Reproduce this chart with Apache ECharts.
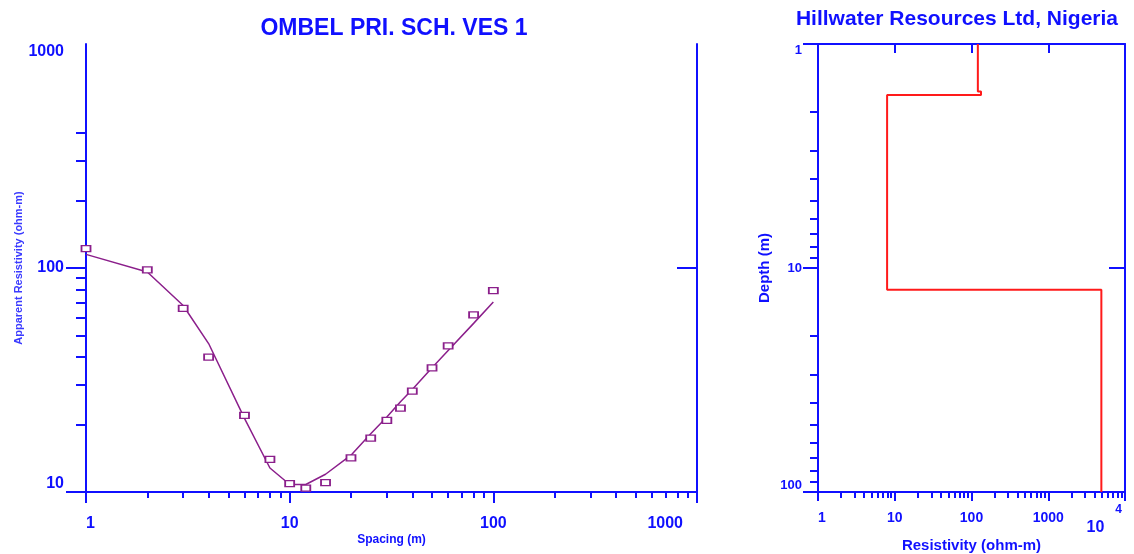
<!DOCTYPE html>
<html>
<head>
<meta charset="utf-8">
<title>OMBEL PRI. SCH. VES 1</title>
<script src="https://cdn.jsdelivr.net/npm/echarts@6/dist/echarts.min.js"></script>
<style>
  html, body { margin: 0; padding: 0; background: #fff; }
  #chart { width: 1134px; height: 554px; }
</style>
</head>
<body>
<div id="chart"></div>
<script>
// sounding curve (left)
const spacing = [1, 2, 3, 4, 6, 8, 10, 12, 15, 20, 25, 30, 35, 40, 50, 60, 80, 100]
const observedRho = [122, 98, 66, 40, 22, 14, 10.9, 10.4, 11, 14.2, 17.4, 20.9, 23.7, 28.2, 35.8, 44.9, 61.7, 79.3]
const calculatedRho = [115, 96, 68, 46, 21.3, 12.8, 10.8, 10.8, 12.0, 14.6, 18.2, 21.6, 25.3, 28.7, 35.9, 42.8, 56.6, 70.5]

// layered model (right)
const layerRes = [121, 133, 7.95, 4920]
const layerTop = [1, 1.63, 1.69, 12.5]
const modelBottom = 100

// tick values
const leftXMinor = [2, 3, 4, 5, 6, 7, 8, 9, 20, 30, 40, 50, 60, 70, 80, 90, 200, 300, 400, 500, 600, 700, 800, 900]
const leftYMajor = [10, 100]
const leftYMinor = [20, 30, 40, 50, 60, 70, 80, 90, 200, 300, 400]
const rightXMinor = [2, 3, 4, 5, 6, 7, 8, 9, 20, 30, 40, 50, 60, 70, 80, 90, 200, 300, 400, 500, 600, 700, 800, 900, 2000, 3000, 4000, 5000, 6000, 7000, 8000, 9000]
const rightXTop = [10, 100, 1000]
const rightYMinor = [2, 3, 4, 5, 6, 7, 8, 9, 20, 30, 40, 50, 60, 70, 80, 90]

const BLUE = '#1010ff'
const PURPLE = '#8b1f8b'
const FONT = "'Liberation Sans', Arial, sans-serif"

const modelLine = []
layerRes.forEach((r, i) => {
  const bottom = i < layerTop.length - 1 ? layerTop[i + 1] : modelBottom
  modelLine.push([r, layerTop[i]], [r, bottom])
})

const lbl = (size, extra) => Object.assign({ color: BLUE, fontFamily: FONT, fontWeight: 'bold', fontSize: size }, extra || {})
const line = { show: true, lineStyle: { color: BLUE, width: 2 } }
const noLine = { show: false }
const noLabel = { show: false }
const plain = v => String(v)

function minorAxis(grid, pos, vals, len, inside) {
  return {
    type: 'log', logBase: 10, gridIndex: grid, position: pos,
    axisLine: noLine, axisLabel: noLabel, splitLine: { show: false },
    axisTick: { show: true, inside: !!inside, length: len, customValues: vals, lineStyle: { color: BLUE, width: 2 } }
  }
}

const chart = echarts.init(document.getElementById('chart'))

chart.setOption({
  animation: false,
  backgroundColor: '#fff',
  graphic: [
    { type: 'text', x: 394, y: 29, style: { text: 'OMBEL PRI. SCH. VES 1', align: 'center', verticalAlign: 'middle', fill: BLUE, font: "bold 23px 'Liberation Sans', Arial, sans-serif" } },
    { type: 'text', x: 957, y: 19, style: { text: 'Hillwater Resources Ltd, Nigeria', align: 'center', verticalAlign: 'middle', fill: BLUE, font: "bold 21px 'Liberation Sans', Arial, sans-serif" } }
  ],
  grid: [
    { left: 86, top: 44, width: 611, height: 448, outerBoundsMode: 'none', containLabel: false },
    { left: 818, top: 44, width: 307, height: 448, outerBoundsMode: 'none', containLabel: false }
  ],
  xAxis: [
    {
      type: 'log', logBase: 10, gridIndex: 0, min: 1, max: 1000, position: 'bottom',
      axisLine: line, splitLine: { show: false },
      axisTick: { show: true, length: 11, lineStyle: { color: BLUE, width: 2 } },
      axisLabel: lbl(16, {
        margin: 24, alignMinLabel: 'left', alignMaxLabel: 'right',
        formatter: v => v === 1000 ? '{r|1000}' : String(v),
        rich: { r: lbl(16, { padding: [0, 14, 0, 0] }) }
      }),
      name: 'Spacing (m)', nameLocation: 'middle', nameGap: 42, nameMoveOverlap: false,
      nameTextStyle: lbl(12)
    },
    Object.assign(minorAxis(0, 'bottom', leftXMinor, 6), { min: 1, max: 1000 }),
    {
      type: 'log', logBase: 10, gridIndex: 1, min: 1, max: 10000, position: 'bottom',
      axisLine: line, splitLine: { show: false },
      axisTick: { show: true, length: 9, lineStyle: { color: BLUE, width: 2 } },
      axisLabel: lbl(14, {
        margin: 12, alignMinLabel: 'left', alignMaxLabel: 'right',
        formatter: v => v === 10000 ? '{m|10}{s|4}' : '{n|' + v + '}',
        rich: {
          n: lbl(14, { padding: [7, 0, 0, 0] }),
          m: lbl(16, { padding: [16, 0, 0, 0] }),
          s: lbl(12, { padding: [0, 3, 0, 11], verticalAlign: 'top' })
        }
      }),
      name: 'Resistivity (ohm-m)', nameLocation: 'middle', nameGap: 46, nameMoveOverlap: false,
      nameTextStyle: lbl(15)
    },
    Object.assign(minorAxis(1, 'bottom', rightXMinor, 6), { min: 1, max: 10000 }),
    Object.assign(minorAxis(1, 'top', rightXTop, 9, true), { min: 1, max: 10000, axisLine: line })
  ],
  yAxis: [
    {
      type: 'log', logBase: 10, gridIndex: 0, min: 10, max: 1000, position: 'left',
      axisLine: line, splitLine: { show: false },
      axisTick: { show: true, length: 20, customValues: leftYMajor, lineStyle: { color: BLUE, width: 2 } },
      axisLabel: lbl(16, { margin: 22, verticalAlignMinLabel: 'bottom', verticalAlignMaxLabel: 'top', formatter: plain }),
      name: 'Apparent Resistivity (ohm-m)', nameLocation: 'middle', nameGap: 62, nameMoveOverlap: false,
      nameTextStyle: lbl(11, { color: '#3a3aff' })
    },
    Object.assign(minorAxis(0, 'left', leftYMinor, 10), { min: 10, max: 1000 }),
    Object.assign(minorAxis(0, 'right', [100], 20, true), { min: 10, max: 1000, axisLine: line }),
    {
      type: 'log', logBase: 10, gridIndex: 1, min: 1, max: 100, inverse: true, position: 'left',
      axisLine: line, splitLine: { show: false },
      axisTick: { show: true, length: 15, lineStyle: { color: BLUE, width: 2 } },
      axisLabel: lbl(13, { margin: 16, verticalAlignMinLabel: 'top', verticalAlignMaxLabel: 'bottom', formatter: plain }),
      name: 'Depth (m)', nameLocation: 'middle', nameGap: 46, nameMoveOverlap: false,
      nameTextStyle: lbl(15)
    },
    Object.assign(minorAxis(1, 'left', rightYMinor, 8), { min: 1, max: 100, inverse: true }),
    Object.assign(minorAxis(1, 'right', [10], 16, true), { min: 1, max: 100, inverse: true, axisLine: line })
  ],
  series: [
    {
      name: 'Calculated', type: 'line', xAxisIndex: 0, yAxisIndex: 0,
      data: spacing.map((s, i) => [s, calculatedRho[i]]),
      showSymbol: false, symbol: 'none',
      lineStyle: { color: PURPLE, width: 1.5 }, z: 3
    },
    {
      name: 'Observed', type: 'scatter', xAxisIndex: 0, yAxisIndex: 0,
      data: spacing.map((s, i) => [s, observedRho[i]]),
      symbol: 'rect', symbolSize: [9, 6],
      itemStyle: { color: '#fff', borderColor: PURPLE, borderWidth: 1.5, opacity: 1 }, z: 4
    },
    {
      name: 'Model', type: 'line', xAxisIndex: 2, yAxisIndex: 3,
      data: modelLine, showSymbol: false, symbol: 'none', clip: false,
      lineStyle: { color: '#ff1a1a', width: 2 }, z: 3
    }
  ]
})
</script>
</body>
</html>
